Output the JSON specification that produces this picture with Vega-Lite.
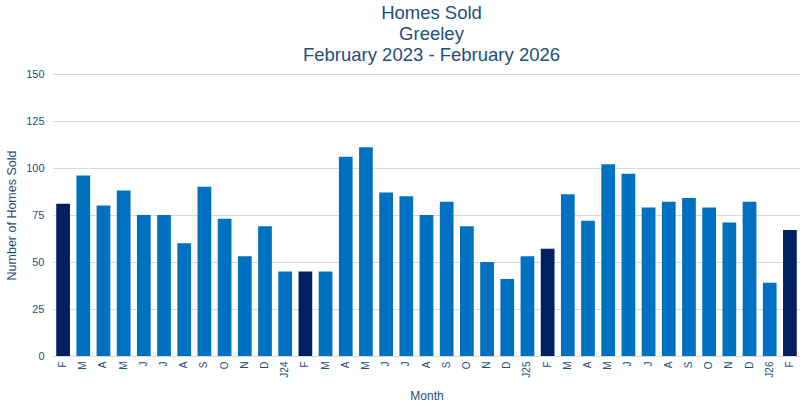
{
  "$schema": "https://vega.github.io/schema/vega-lite/v6.json",
  "width": 747,
  "height": 282,
  "autosize": {"type": "none"},
  "padding": {"left": 53, "top": 74, "right": 2, "bottom": 53},
  "background": "white",
  "title": {
    "text": ["Homes Sold", "Greeley", "February 2023 - February 2026"],
    "font": "Liberation Sans",
    "fontSize": 18.5,
    "fontWeight": "normal",
    "color": "#1F4E79",
    "lineHeight": 21,
    "offset": 4,
    "dx": 5
  },
  "data": {
    "values": [
      {"m": "F|1", "v": 81, "feb": true},
      {"m": "M|2", "v": 96, "feb": false},
      {"m": "A|3", "v": 80, "feb": false},
      {"m": "M|4", "v": 88, "feb": false},
      {"m": "J|5", "v": 75, "feb": false},
      {"m": "J|6", "v": 75, "feb": false},
      {"m": "A|7", "v": 60, "feb": false},
      {"m": "S|8", "v": 90, "feb": false},
      {"m": "O|9", "v": 73, "feb": false},
      {"m": "N|10", "v": 53, "feb": false},
      {"m": "D|11", "v": 69, "feb": false},
      {"m": "J24|12", "v": 45, "feb": false},
      {"m": "F|13", "v": 45, "feb": true},
      {"m": "M|14", "v": 45, "feb": false},
      {"m": "A|15", "v": 106, "feb": false},
      {"m": "M|16", "v": 111, "feb": false},
      {"m": "J|17", "v": 87, "feb": false},
      {"m": "J|18", "v": 85, "feb": false},
      {"m": "A|19", "v": 75, "feb": false},
      {"m": "S|20", "v": 82, "feb": false},
      {"m": "O|21", "v": 69, "feb": false},
      {"m": "N|22", "v": 50, "feb": false},
      {"m": "D|23", "v": 41, "feb": false},
      {"m": "J25|24", "v": 53, "feb": false},
      {"m": "F|25", "v": 57, "feb": true},
      {"m": "M|26", "v": 86, "feb": false},
      {"m": "A|27", "v": 72, "feb": false},
      {"m": "M|28", "v": 102, "feb": false},
      {"m": "J|29", "v": 97, "feb": false},
      {"m": "J|30", "v": 79, "feb": false},
      {"m": "A|31", "v": 82, "feb": false},
      {"m": "S|32", "v": 84, "feb": false},
      {"m": "O|33", "v": 79, "feb": false},
      {"m": "N|34", "v": 71, "feb": false},
      {"m": "D|35", "v": 82, "feb": false},
      {"m": "J26|36", "v": 39, "feb": false},
      {"m": "F|37", "v": 67, "feb": true}
    ]
  },
  "mark": {"type": "bar"},
  "encoding": {
    "x": {
      "field": "m",
      "type": "ordinal",
      "sort": null,
      "scale": {"paddingInner": 0.32, "paddingOuter": 0.16},
      "axis": {
        "title": "Month",
        "titleFont": "Liberation Sans",
        "titleFontSize": 12,
        "titleFontWeight": "normal",
        "titleColor": "#1F4E79",
        "titlePadding": 13,
        "labelExpr": "split(datum.value, '|')[0]",
        "labelAngle": -90,
        "labelFont": "Liberation Sans",
        "labelFontSize": 10,
        "labelColor": "#1F4E79",
        "labelPadding": 5,
        "ticks": false,
        "domainColor": "#D9D9D9",
        "grid": false
      }
    },
    "y": {
      "field": "v",
      "type": "quantitative",
      "scale": {"domain": [0, 150]},
      "axis": {
        "title": "Number of Homes Sold",
        "titleFont": "Liberation Sans",
        "titleFontSize": 12.5,
        "titleFontWeight": "normal",
        "titleColor": "#1F4E79",
        "titlePadding": 7,
        "values": [0, 25, 50, 75, 100, 125, 150],
        "labelFont": "Liberation Sans",
        "labelFontSize": 11,
        "labelColor": "#1F4E79",
        "labelPadding": 9,
        "ticks": false,
        "domain": false,
        "gridColor": "#D9D9D9"
      }
    },
    "color": {
      "field": "feb",
      "type": "nominal",
      "scale": {"domain": [true, false], "range": ["#002060", "#0070C0"]},
      "legend": null
    }
  },
  "config": {"view": {"stroke": null}}
}
